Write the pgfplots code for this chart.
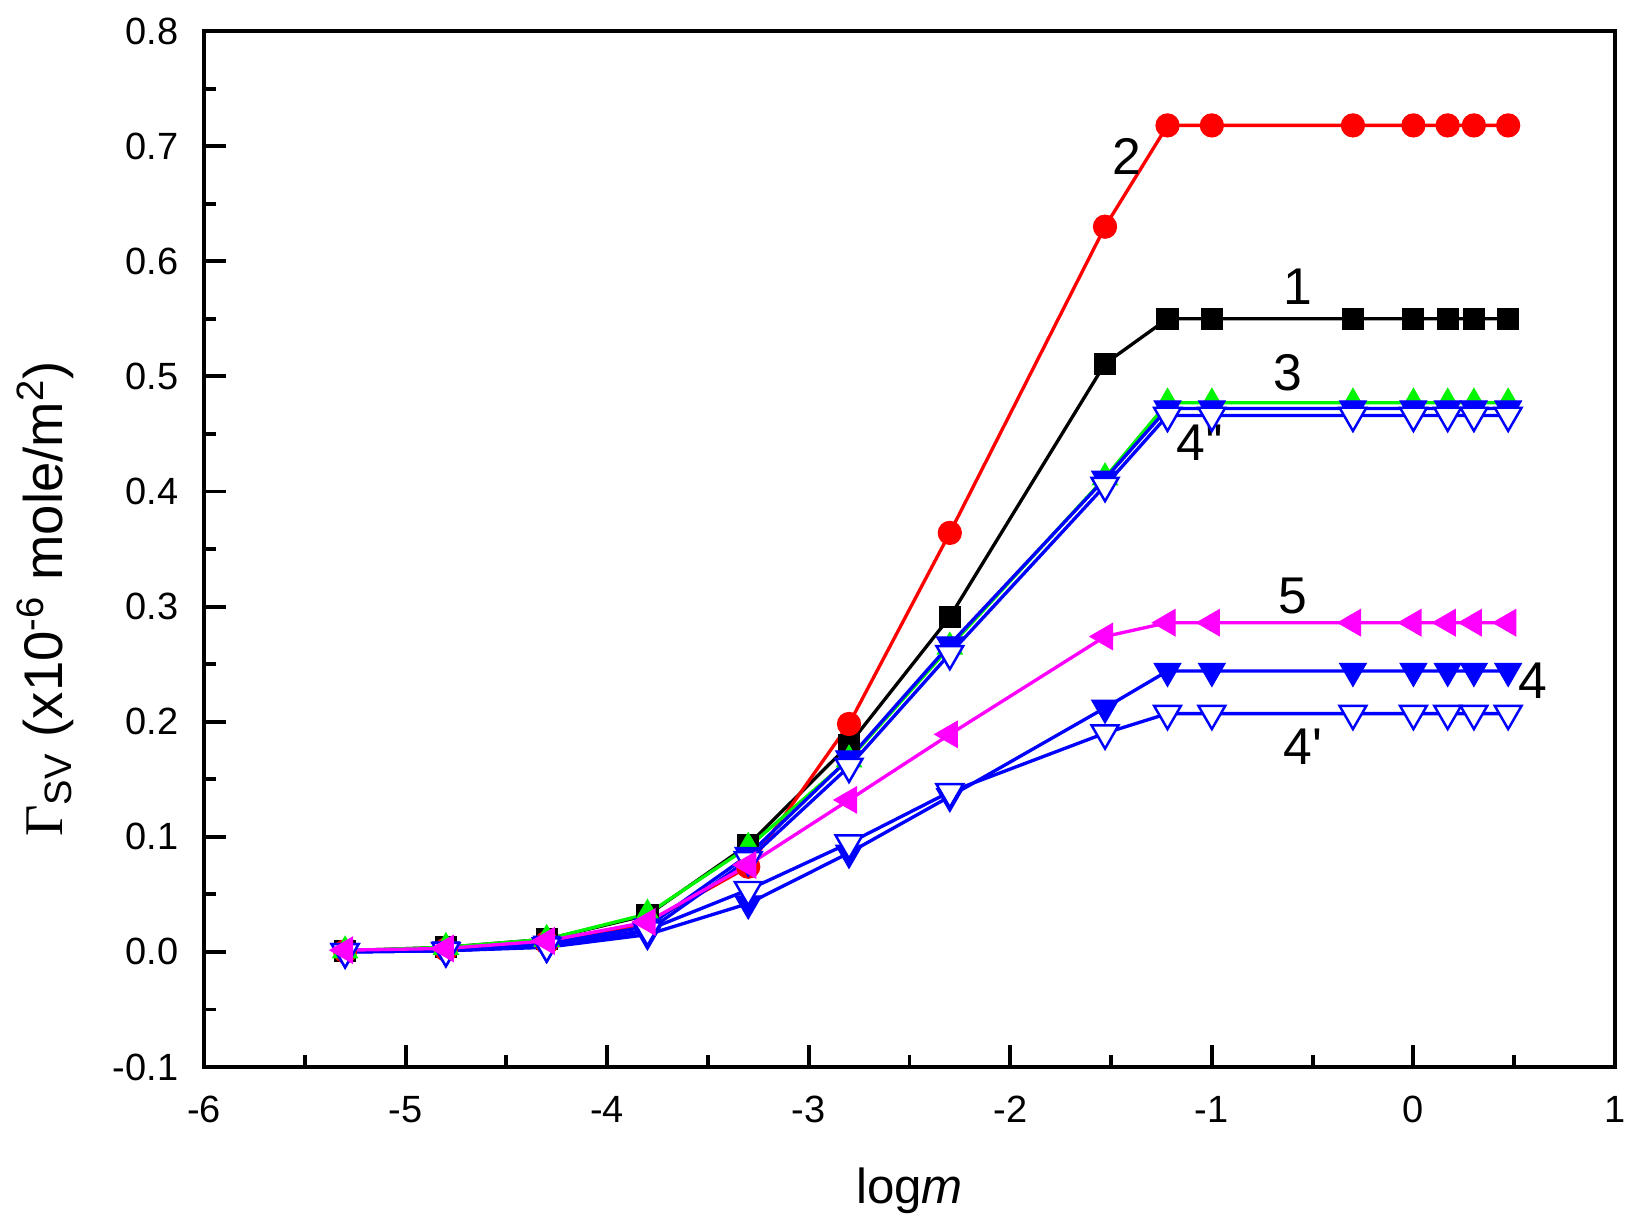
\documentclass[border=0pt]{standalone}
\usepackage{fontspec}
\setmainfont{Liberation Sans}
\newfontfamily\seriffont{Liberation Serif}
\usepackage{pgfplots}
\pgfplotsset{compat=1.18}
\definecolor{cgreen}{RGB}{0,245,0}
\definecolor{cblue}{RGB}{0,0,255}
\definecolor{cred}{RGB}{255,0,0}
\definecolor{cmag}{RGB}{255,0,255}
\begin{document}
\begin{tikzpicture}
\path[use as bounding box] (0,0) rectangle (16.34cm,12.29cm);
\begin{axis}[
  at={(2.04cm,1.62cm)}, anchor=south west,
  width=14.11cm, height=10.36cm, scale only axis,
  xmin=-6, xmax=1, ymin=-0.1, ymax=0.8,
  xtick={-6,-5,-4,-3,-2,-1,0,1},
  ytick={-0.1,0,0.1,0.2,0.3,0.4,0.5,0.6,0.7,0.8},
  minor x tick num=1, minor y tick num=1,
  tick align=inside, xtick pos=left, ytick pos=left,
  major tick length=0.22cm, minor tick length=0.12cm,
  every tick/.append style={black, line width=1.1pt},
  axis line style={line width=1.1pt},
  /pgf/number format/assume math mode=true,
  ticklabel style={font=\fontsize{10.8}{12}\selectfont},
  yticklabel style={anchor=east, inner sep=0pt, xshift=-0.25cm,
    /pgf/number format/.cd, fixed, fixed zerofill, precision=1},
  xticklabel style={anchor=base, inner sep=0pt, yshift=-0.55cm},
  every axis x label/.style={at={(axis description cs:0.5,-0.1313)}, anchor=base},
  every axis y label/.style={at={(axis description cs:-0.1006,0.452)}, rotate=90, anchor=base},
  xlabel={\fontsize{14}{16}\selectfont log\textit{m}},
  ylabel={\fontsize{15.5}{18}\selectfont {\seriffont Γ}\textsubscript{SV} (x10\textsuperscript{-6} mole/m\textsuperscript{2})},
  clip=false,
]
% 1 black squares
\addplot[black, line width=0.95pt, mark=square*, mark size=3pt, mark options={line width=0.3pt}] coordinates {
(-5.3,0.001) (-4.8,0.004) (-4.3,0.011) (-3.8,0.032) (-3.3,0.093) (-2.8,0.180) (-2.3,0.291) (-1.53,0.511)
(-1.22,0.550) (-1.0,0.550) (-0.3,0.550) (0,0.550) (0.17,0.550) (0.3,0.550) (0.47,0.550)};
% 2 red circles
\addplot[cred, line width=0.95pt, mark=*, mark size=3.3pt, mark options={line width=0.3pt}] coordinates {
(-5.3,0.0005) (-4.8,0.002) (-4.3,0.008) (-3.8,0.025) (-3.3,0.074) (-2.8,0.198) (-2.3,0.364) (-1.53,0.630)
(-1.22,0.718) (-1.0,0.718) (-0.3,0.718) (0,0.718) (0.17,0.718) (0.3,0.718) (0.47,0.718)};
% 3 green up triangles
\addplot[cgreen, line width=0.95pt, mark=triangle*, mark size=4.1pt, mark options={line width=0.3pt}] coordinates {
(-5.3,0.001) (-4.8,0.004) (-4.3,0.011) (-3.8,0.033) (-3.3,0.091) (-2.8,0.167) (-2.3,0.265) (-1.53,0.412)
(-1.22,0.477) (-1.0,0.477) (-0.3,0.477) (0,0.477) (0.17,0.477) (0.3,0.477) (0.47,0.477)};
% 4'' filled blue down triangles
\addplot[cblue, line width=0.95pt, mark=triangle*, mark size=4.4pt, mark options={rotate=180, line width=0.3pt}] coordinates {
(-5.3,0.0005) (-4.8,0.002) (-4.3,0.007) (-3.8,0.022) (-3.3,0.084) (-2.8,0.168) (-2.3,0.267) (-1.53,0.411)
(-1.22,0.472) (-1.0,0.472) (-0.3,0.472) (0,0.472) (0.17,0.472) (0.3,0.472) (0.47,0.472)};
% 4'' open blue down triangles
\addplot[cblue, line width=0.95pt, mark=triangle*, mark size=4.4pt, mark options={rotate=180, fill=white, draw=cblue, line width=0.7pt}] coordinates {
(-5.3,0.0) (-4.8,0.001) (-4.3,0.005) (-3.8,0.018) (-3.3,0.080) (-2.8,0.161) (-2.3,0.259) (-1.53,0.405)
(-1.22,0.466) (-1.0,0.466) (-0.3,0.466) (0,0.466) (0.17,0.466) (0.3,0.466) (0.47,0.466)};
% 4 filled blue down triangles
\addplot[cblue, line width=0.95pt, mark=triangle*, mark size=4.4pt, mark options={rotate=180, line width=0.3pt}] coordinates {
(-5.3,0.0) (-4.8,0.001) (-4.3,0.004) (-3.8,0.015) (-3.3,0.042) (-2.8,0.086) (-2.3,0.135) (-1.53,0.212)
(-1.22,0.244) (-1.0,0.244) (-0.3,0.244) (0,0.244) (0.17,0.244) (0.3,0.244) (0.47,0.244)};
% 4' open blue down triangles
\addplot[cblue, line width=0.95pt, mark=triangle*, mark size=4.4pt, mark options={rotate=180, fill=white, draw=cblue, line width=0.7pt}] coordinates {
(-5.3,0.0) (-4.8,0.001) (-4.3,0.005) (-3.8,0.019) (-3.3,0.054) (-2.8,0.0945) (-2.3,0.139) (-1.53,0.190)
(-1.22,0.207) (-1.0,0.207) (-0.3,0.207) (0,0.207) (0.17,0.207) (0.3,0.207) (0.47,0.207)};
% 5 magenta left triangles
\addplot[cmag, line width=0.95pt, mark=triangle*, mark size=4.3pt, mark options={rotate=90, line width=0.3pt}] coordinates {
(-5.3,0.0015) (-4.8,0.003) (-4.3,0.0095) (-3.8,0.026) (-3.3,0.0755) (-2.8,0.132) (-2.3,0.189) (-1.53,0.274)
(-1.22,0.286) (-1.0,0.286) (-0.3,0.286) (0,0.286) (0.17,0.286) (0.3,0.286) (0.47,0.286)};
\begin{scope}[every node/.style={font=\fontsize{14.7}{17}\selectfont, inner sep=0pt}]
\node at (axis cs:-1.421,0.6914) {2};
\node at (axis cs:-0.573,0.5776) {1};
\node at (axis cs:-0.622,0.503) {3};
\node at (axis cs:-1.059,0.442) {4\textquotesingle\kern-0.03em\textquotesingle};
\node at (axis cs:-0.597,0.309) {5};
\node at (axis cs:0.593,0.236) {4};
\node at (axis cs:-0.548,0.178) {4\textquotesingle};
\end{scope}
\end{axis}
\end{tikzpicture}
\end{document}
